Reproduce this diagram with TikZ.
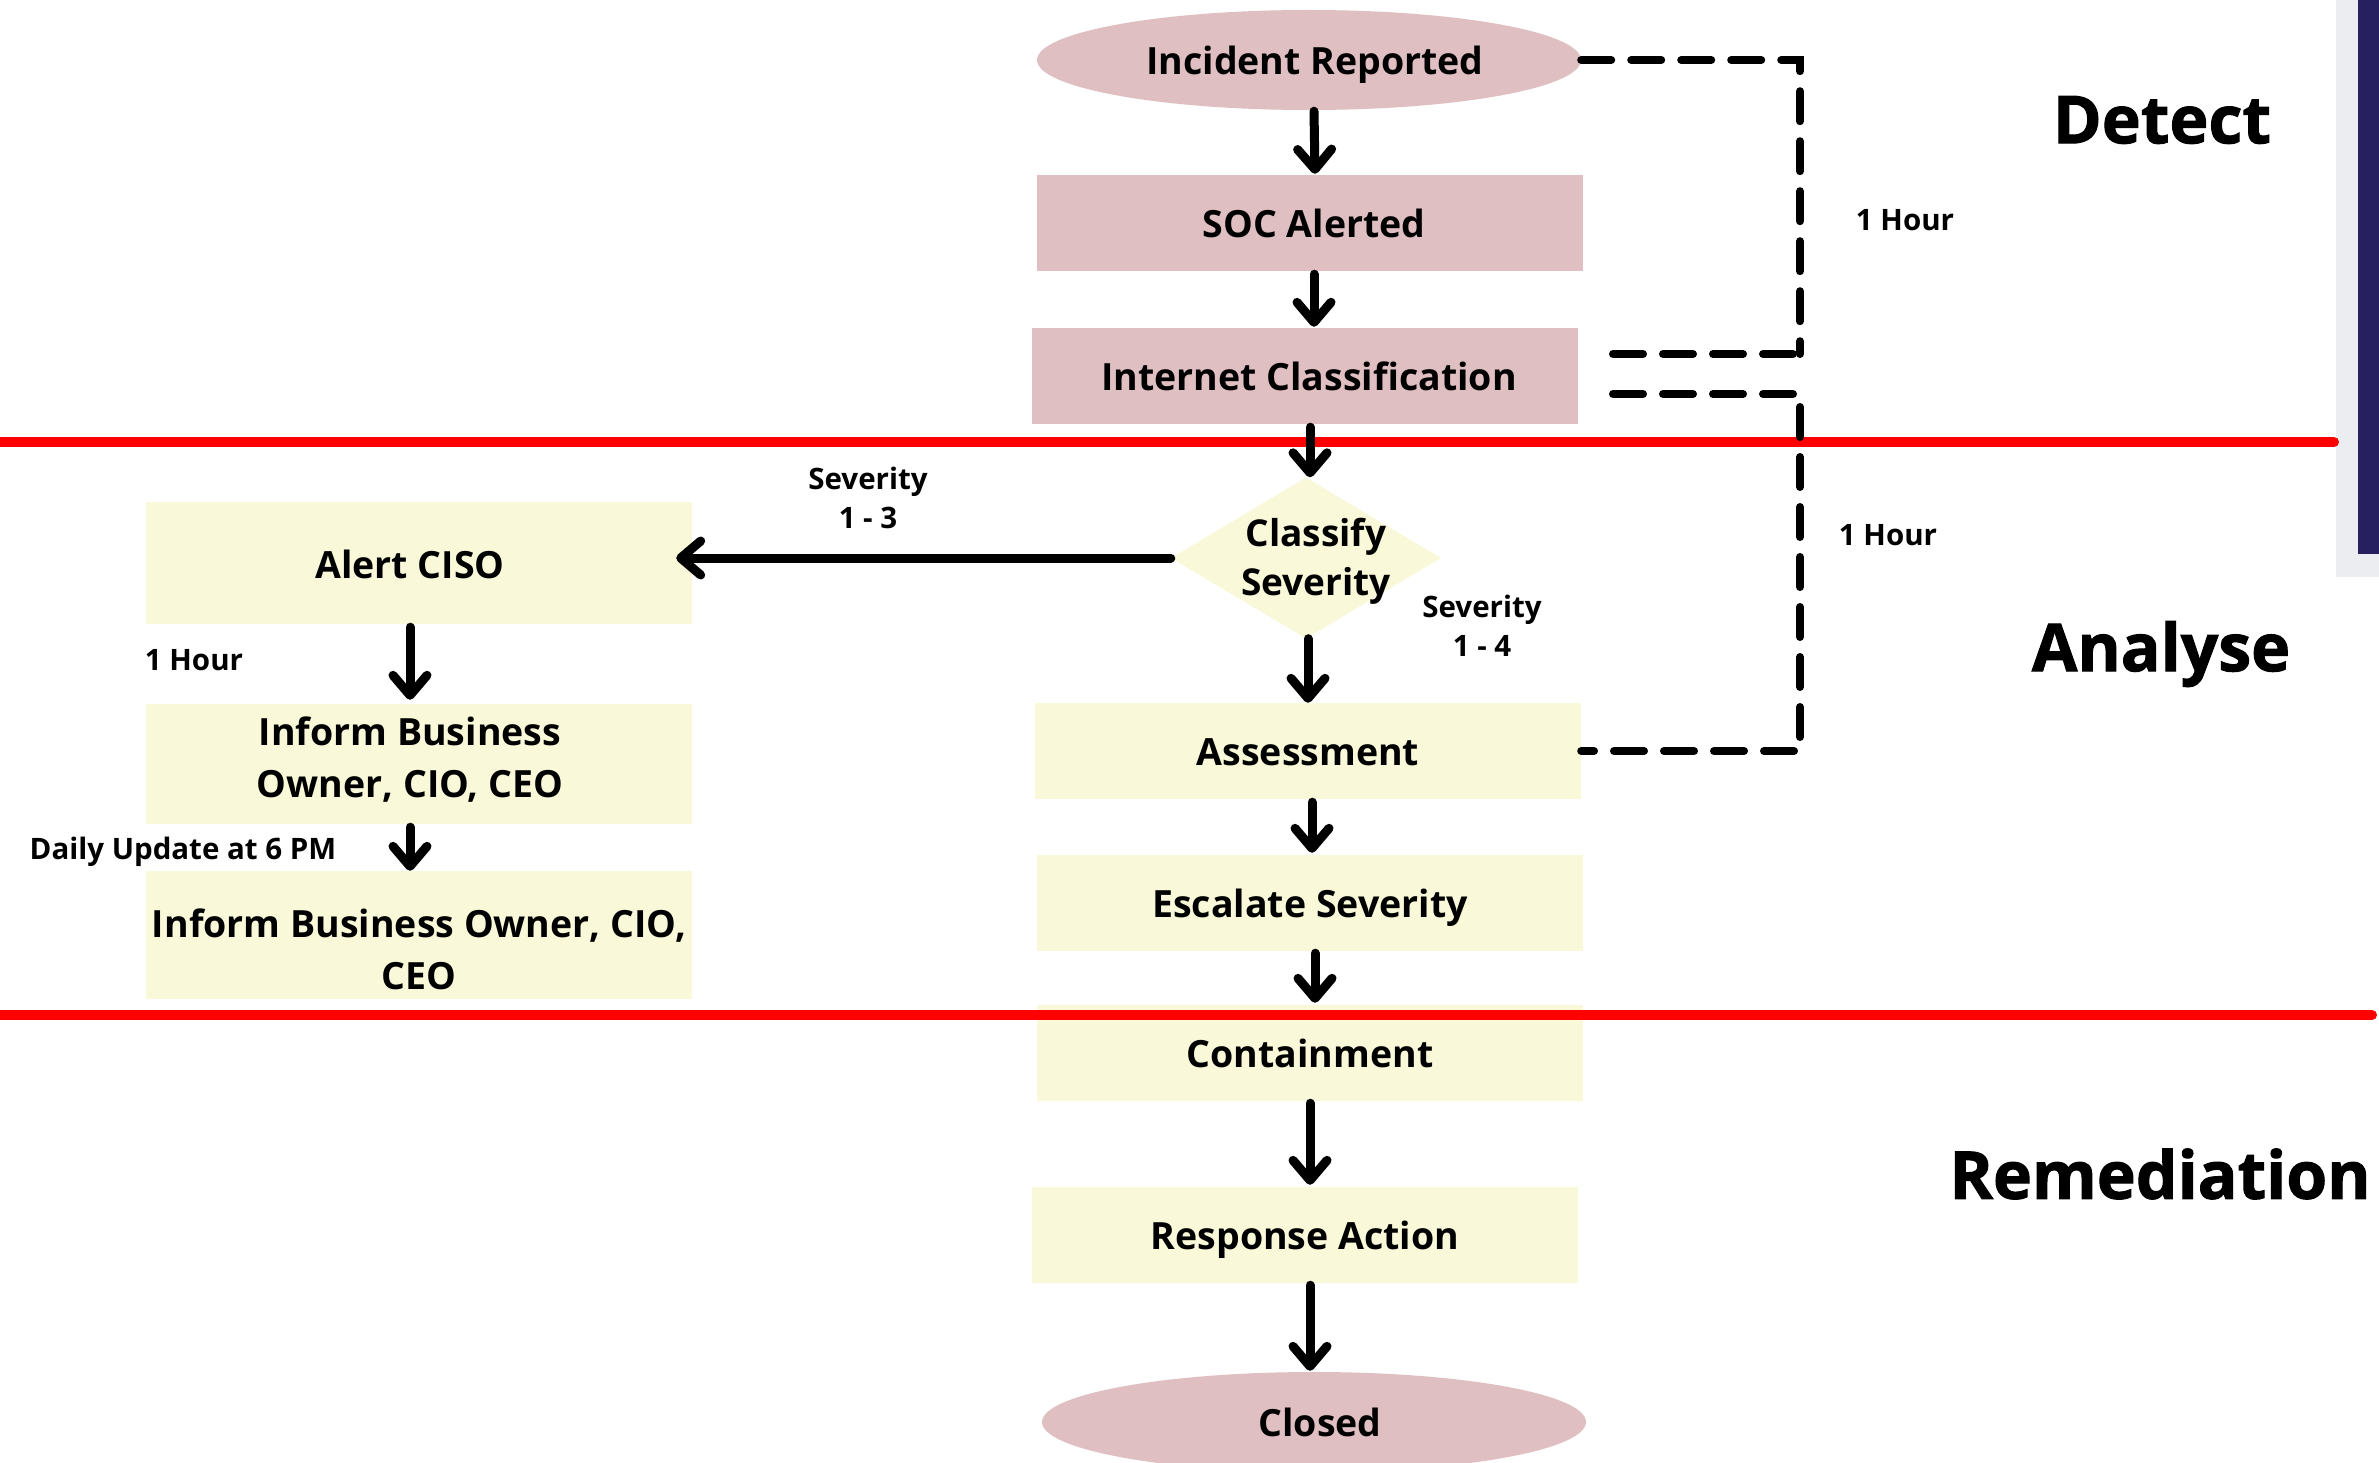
\documentclass[tikz,border=0pt]{standalone}
\usepackage{fontspec}
\setmainfont{Open Sans}
\newfontfamily\heavyfont{Open Sans}[BoldFeatures={FakeBold=1.5}]
\usetikzlibrary{arrows.meta,shapes.geometric}
\definecolor{pinkfill}{RGB}{223,191,193}
\definecolor{creamfill}{RGB}{249,248,216}
\definecolor{navy}{RGB}{38,32,96}
\definecolor{sidegray}{RGB}{236,237,240}

\begin{document}
\begin{tikzpicture}[x=1pt,y=-1pt,
  box/.style={rectangle, inner sep=0, minimum width=546, minimum height=96,
    align=center, text height=34pt, text depth=5pt,
    font=\fontsize{37.5}{52}\selectfont\bfseries},
  pinkbox/.style={box, fill=pinkfill},
  creambox/.style={box, fill=creamfill},
  oval/.style={box, ellipse, fill=pinkfill, minimum width=544, minimum height=100},
  boxtext/.style={font=\fontsize{37.5}{52}\selectfont\bfseries, align=center, inner sep=0},
  linetext/.style={boxtext, text height=34pt, text depth=5pt},
  lbl/.style={font=\fontsize{29.5}{39}\selectfont\bfseries, align=center, inner sep=0},
  phase/.style={font=\fontsize{66}{70}\selectfont\heavyfont\bfseries, inner sep=0},
  flow/.style={line width=9pt, line cap=round,
    -{Straight Barb[length=20pt, width=34pt, round]}},
  timer/.style={line width=8pt, line cap=round, dash pattern=on 30pt off 20pt},
  divider/.style={red, line width=10pt, line cap=round}]

% canvas
\fill[white] (0,0) rectangle (2379,1463);
\useasboundingbox (0,0) rectangle (2379,1463);

% side bar
\fill[sidegray] (2336,0) rectangle (2379,577);
\fill[navy] (2358,0) rectangle (2379,554);

% main flow
\node[oval, label={[linetext, xshift=6pt]center:Incident Reported}] (inc) at (1309,60) {};
\node[pinkbox, label={[linetext, xshift=4pt]center:SOC Alerted}] (soc) at (1310,223) {};
\node[pinkbox, label={[linetext, xshift=4pt]center:Internet Classification}] (icl) at (1305,376) {};
\node[diamond, fill=creamfill, minimum width=270, minimum height=161, inner sep=0,
  label={[boxtext, font=\fontsize{37}{49}\selectfont\bfseries, xshift=10pt, yshift=-3pt]center:Classify\\Severity}] (cls) at (1306,558) {};
\node[creambox] (ass) at (1308,751) {Assessment};
\node[creambox] (esc) at (1310,903) {Escalate Severity};
\node[creambox] (con) at (1310,1053) {Containment};
\node[creambox] (res) at (1305,1235) {Response Action};
\node[oval, label={[linetext, xshift=6pt]center:Closed}] (clo) at (1314,1422) {};

% escalation branch
\node[creambox, minimum height=122,
  label={[boxtext, xshift=-9pt, yshift=-1pt]center:Alert CISO}] (ciso) at (419,563) {};
\node[creambox, minimum height=120,
  label={[boxtext, xshift=-9pt, yshift=4pt]center:Inform Business\\Owner, CIO, CEO}] (inf1) at (419,764) {};
\node[creambox, minimum height=128,
  label={[boxtext, yshift=-14pt]center:Inform Business Owner, CIO,\\CEO}] (inf2) at (419,935) {};

% phase dividers
\draw[divider] (0,442) -- (2334,442);
\draw[divider] (0,1015) -- (2372,1015);

% arrows
\draw[flow] ([xshift=5pt,yshift=-1pt]inc.south) -- ([xshift=5pt,yshift=1pt]soc.north);
\draw[flow] ([xshift=4pt,yshift=-3pt]soc.south) -- ([xshift=9pt,yshift=1pt]icl.north);
\draw[flow] ([xshift=5pt,yshift=-3pt]icl.south) -- ([xshift=4pt]cls.north);
\draw[flow] ([xshift=2pt]cls.south) -- (ass.north);
\draw[flow] ([xshift=4pt,yshift=-3pt]ass.south) -- ([xshift=2pt,yshift=2pt]esc.north);
\draw[flow] ([xshift=5pt,yshift=-2pt]esc.south) -- ([xshift=5pt,yshift=2pt]con.north);
\draw[flow] ([yshift=-2pt]con.south) -- ([xshift=5pt,yshift=2pt]res.north);
\draw[flow] ([xshift=5pt,yshift=-2pt]res.south) -- ([xshift=-4pt,yshift=1pt]clo.north);
\draw[flow] (cls.west) -- ([xshift=-16pt,yshift=5pt]ciso.east);
\draw[flow] ([xshift=-9pt,yshift=-3pt]ciso.south) -- ([xshift=-9pt,yshift=4pt]inf1.north);
\draw[flow] ([xshift=-9pt,yshift=-3pt]inf1.south) -- ([xshift=-9pt]inf2.north);

% one-hour windows
\coordinate (topbend) at (1800,354);
\coordinate (topend) at (1613,354);
\coordinate (lowstart) at (1613,394);
\coordinate (lowbend) at (1800,394);
\draw[timer] (inc.east) -| (topbend);
\draw[timer] (topend) -- (topbend);
\draw[timer] (lowstart) -- (lowbend) |- (ass.east);

% labels
\node[lbl] (hr1) at (1905,220) {1 Hour};
\node[lbl] (hr2) at (1888,535) {1 Hour};
\node[lbl] (hr3) at (194,660) {1 Hour};
\node[lbl] (daily) at (183,852) {Daily Update at 6 PM};
\node[lbl] (sev13) at (868,498) {Severity\\1 - 3};
\node[lbl] (sev14) at (1482,626) {Severity\\1 - 4};

% phases
\node[phase] (detect) at (2162,120) {Detect};
\node[phase] (analyse) at (2161,654) {Analyse};
\node[phase] (remed) at (2160,1174) {Remediation};
\end{tikzpicture}
\end{document}
